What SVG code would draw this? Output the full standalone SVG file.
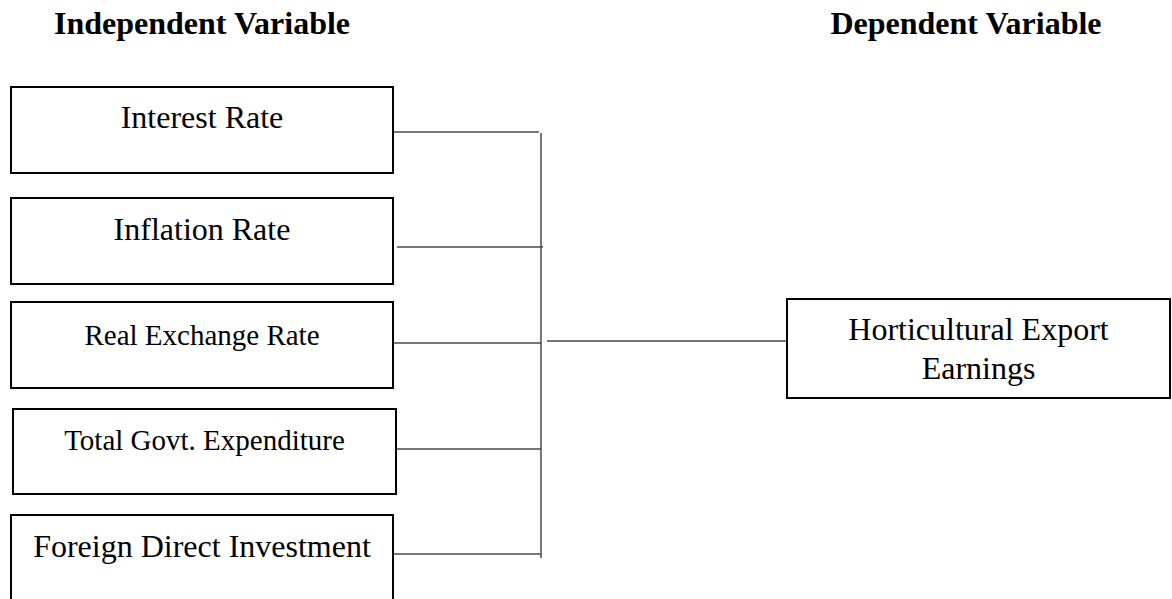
<svg xmlns="http://www.w3.org/2000/svg" width="1172" height="599" viewBox="0 0 1172 599">
<style>
.box{fill:#fff;stroke:#000;stroke-width:2}
.t{font-family:"Liberation Serif","Times New Roman",serif;fill:#000;text-anchor:middle}
.h{font-family:"Liberation Serif","Times New Roman",serif;font-weight:bold;font-size:32px;fill:#000;text-anchor:middle}
.c{stroke:#4a4a4a;stroke-width:1.5;fill:none}
</style>
<rect width="1172" height="599" fill="#fff"/>
<text class="h" x="202" y="34">Independent Variable</text>
<text class="h" x="966" y="34">Dependent Variable</text>
<g id="connectors">
<line class="c" x1="393" y1="132" x2="539" y2="132"/>
<line class="c" x1="397" y1="247" x2="543" y2="247"/>
<line class="c" x1="393" y1="343" x2="541" y2="343"/>
<line class="c" x1="396" y1="449" x2="541" y2="449"/>
<line class="c" x1="393" y1="554" x2="541" y2="554"/>
<line class="c" x1="541" y1="133" x2="541" y2="558"/>
<line class="c" x1="547" y1="341" x2="787" y2="341"/>
</g>
<g id="interest-rate">
<rect class="box" x="11" y="87" width="382" height="86"/>
<text class="t" x="202" y="128" font-size="32">Interest Rate</text>
</g>
<g id="inflation-rate">
<rect class="box" x="11" y="198" width="382" height="86"/>
<text class="t" x="202" y="240" font-size="32">Inflation Rate</text>
</g>
<g id="real-exchange-rate">
<rect class="box" x="11" y="302" width="382" height="86"/>
<text class="t" x="202" y="345" font-size="29">Real Exchange Rate</text>
</g>
<g id="total-govt-expenditure">
<rect class="box" x="13" y="409" width="383" height="85"/>
<text class="t" x="204.5" y="450" font-size="29">Total Govt. Expenditure</text>
</g>
<g id="foreign-direct-investment">
<rect class="box" x="11" y="515" width="382" height="95"/>
<text class="t" x="202" y="557" font-size="32">Foreign Direct Investment</text>
</g>
<g id="horticultural-export-earnings">
<rect class="box" x="787" y="299" width="383" height="99"/>
<text class="t" x="978.5" y="340" font-size="32">Horticultural Export</text>
<text class="t" x="978.5" y="379" font-size="32">Earnings</text>
</g>
</svg>
